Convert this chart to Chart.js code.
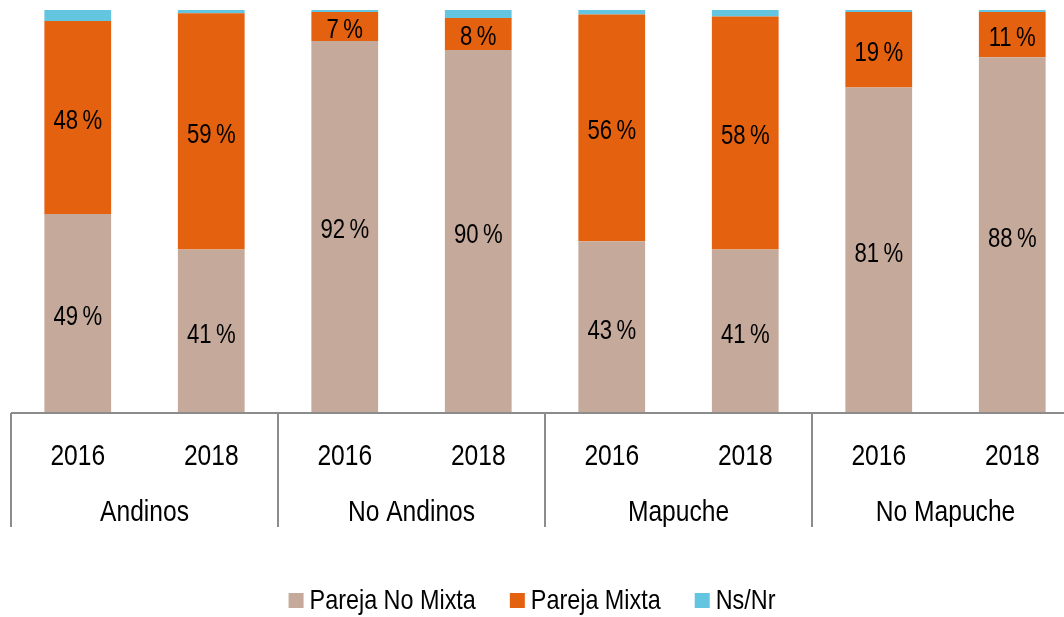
<!DOCTYPE html>
<html>
<head>
<meta charset="utf-8">
<script src="https://cdn.jsdelivr.net/npm/chart.js@4"></script>
<style>
    html, body { margin: 0; padding: 0; background: #fff; overflow: hidden; }
    #wrap { width: 1064px; height: 617px; }
</style>
</head>
<body>
<div id="wrap"><canvas id="chart"></canvas></div>
<script>
var years = ['2016', '2018', '2016', '2018', '2016', '2018', '2016', '2018'];
var groups = ['Andinos', 'No Andinos', 'Mapuche', 'No Mapuche'];
var noMixta = [49.4, 40.6, 92.3, 90.1, 42.6, 40.6, 80.8, 88.3];
var mixta = [47.9, 58.6, 7.2, 7.9, 56.3, 57.8, 18.7, 11.2];
var nsnr = [2.7, 0.8, 0.5, 2.0, 1.1, 1.6, 0.5, 0.5];
var seriesNames = ['Pareja No Mixta', 'Pareja Mixta', 'Ns/Nr'];
var seriesColors = ['#c5a99a', '#e4610f', '#63c5df'];

var FONT = "'Liberation Sans', Arial, sans-serif";
var NARROW = 0.82; // squeeze Liberation Sans to look like Arial Narrow

function toPoints(arr) {
    return arr.map(function(v, i) { return {x: i, y: v}; });
}

function narrowText(ctx, text, x, y) {
    ctx.save();
    ctx.translate(x, y);
    ctx.scale(NARROW, 1);
    ctx.fillText(text, 0, 0);
    ctx.restore();
}

// value labels, axis line, group separators, two label rows and the legend
var twoLevelAxis = {
    id: 'twoLevelAxis',
    afterDatasetsDraw: function(chart) {
        var ctx = chart.ctx;
        var x = chart.scales.x;
        var bottom = chart.chartArea.bottom;
        ctx.save();
        ctx.fillStyle = '#000';
        ctx.textAlign = 'center';
        ctx.textBaseline = 'middle';

        ctx.font = '27px ' + FONT;
        [0, 1].forEach(function(d) {
            var meta = chart.getDatasetMeta(d);
            meta.data.forEach(function(bar, i) {
                var v = chart.data.datasets[d].data[i].y;
                narrowText(ctx, Math.round(v) + '\u2009%', bar.x, (bar.y + bar.base) / 2 + 4);
            });
        });

        ctx.strokeStyle = '#8c8c8c';
        ctx.lineWidth = 2;
        ctx.beginPath();
        ctx.moveTo(x.getPixelForValue(-0.5), bottom);
        ctx.lineTo(chart.width, bottom);
        for (var g = 0; g <= groups.length; g++) {
            var sx = x.getPixelForValue(2 * g - 0.5);
            ctx.moveTo(sx, bottom);
            ctx.lineTo(sx, bottom + 114);
        }
        ctx.stroke();

        ctx.font = '30px ' + FONT;
        years.forEach(function(y, i) {
            narrowText(ctx, y, x.getPixelForValue(i), bottom + 44);
        });
        groups.forEach(function(g, i) {
            narrowText(ctx, g, x.getPixelForValue(2 * i + 0.5), bottom + 100);
        });

        // legend
        ctx.font = '28.5px ' + FONT;
        var box = 15, gap = 6, spacing = 34, ly = 601;
        var widths = seriesNames.map(function(n) { return ctx.measureText(n).width * NARROW; });
        var total = 0;
        widths.forEach(function(w, i) { total += box + gap + w + (i < widths.length - 1 ? spacing : 0); });
        var lx = chart.width / 2 - total / 2;
        ctx.textAlign = 'left';
        seriesNames.forEach(function(n, i) {
            ctx.fillStyle = seriesColors[i];
            ctx.fillRect(lx, ly - 8, box, box);
            ctx.fillStyle = '#000';
            narrowText(ctx, n, lx + box + gap, ly);
            lx += box + gap + widths[i] + spacing;
        });
        ctx.restore();
    }
};

var step = 133.5;
new Chart(document.getElementById('chart'), {
    type: 'bar',
    data: {
        datasets: seriesNames.map(function(n, i) {
            return {label: n, data: toPoints([noMixta, mixta, nsnr][i]), backgroundColor: seriesColors[i]};
        })
    },
    options: {
        responsive: true,
        maintainAspectRatio: false,
        animation: false,
        layout: {padding: {top: 10, left: 0, right: 0, bottom: 0}},
        datasets: {bar: {categoryPercentage: 0.5, barPercentage: 1}},
        plugins: {
            legend: {display: false},
            tooltip: {enabled: false}
        },
        scales: {
            x: {
                type: 'linear',
                stacked: true,
                offset: false,
                min: -0.5 - 11 / step,
                max: 7.5 - 15 / step,
                grid: {display: false},
                border: {display: false},
                ticks: {display: false},
                afterFit: function(scale) { scale.height = 204; }
            },
            y: {stacked: true, min: 0, max: 100, display: false}
        }
    },
    plugins: [twoLevelAxis]
});
</script>
</body>
</html>
